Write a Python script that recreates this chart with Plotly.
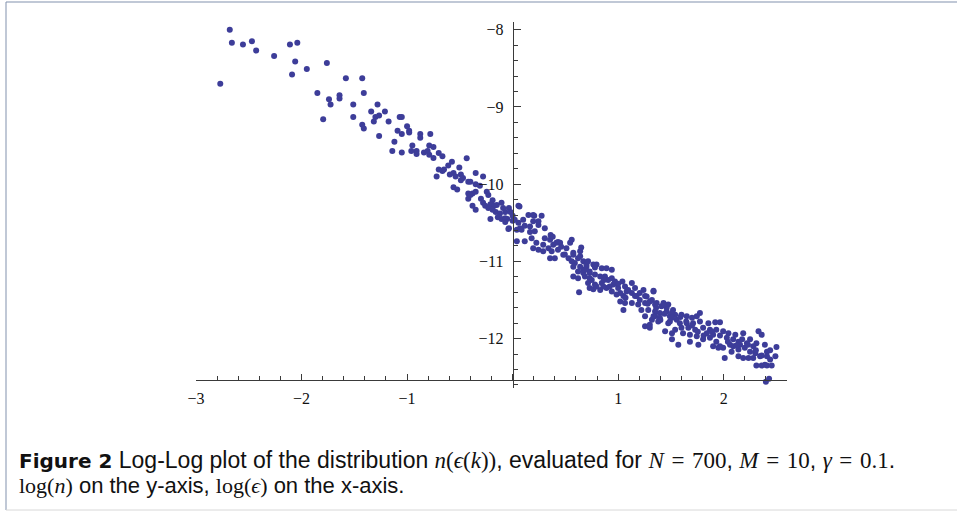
import plotly.graph_objects as go

# ---- data: log(epsilon) vs log(n) ----
log_eps = [
 -2.68,-2.66,-2.555,-2.47,-2.43,-2.77,-2.26,-2.11,-2.04,-2.06,-2.09,-1.95,-1.76,-1.85,-1.74,-1.725,-1.795,
 -1.58,-1.425,-1.64,-1.64,-1.41,-1.51,-1.28,-1.51,-1.34,-1.30,-1.265,-1.21,-1.315,-1.175,-1.425,-1.41,-1.265,
 -1.07,-1.05,-1.00,-0.98,-0.98,-1.09,-1.05,-1.12,-1.14,-1.05,-0.95,-0.91,-0.91,-0.875,-0.875,-0.84,-0.805,-0.79,-0.78,
 -0.96,-0.75,-0.75,-0.79,-0.70,-0.665,-0.575,-0.61,-0.70,-0.665,-0.72,-0.65,-0.595,-0.56,-0.505,-0.54,-0.49,-0.47,
 -0.435,-0.56,-0.525,-0.49,-0.42,-0.40,-0.35,-0.28,-0.35,-0.31,-0.38,-0.42,-0.42,-0.35,-0.30,-0.245,-0.23,-0.19,
 -0.28,-0.38,-0.35,-0.26,-0.23,-0.21,-0.175,-0.16,-0.105,-0.09,-0.12,-0.07,-0.035,-0.02,-0.21,-0.14,-0.105,-0.05,
 0.00,0.00,0.055,-0.035,
 -0.15,-0.07,-0.04,0.065,0.02,0.055,0.04,0.085,0.10,0.15,0.205,0.275,0.195,0.115,0.165,0.245,0.21,0.04,0.115,
 0.18,0.225,0.195,0.245,0.29,0.29,0.36,0.355,0.385,0.34,0.37,0.355,0.40,0.43,0.45,0.48,0.51,0.545,0.56,0.53,
 0.575,0.59,0.62,0.64,0.67,0.70,0.73,0.67,0.62,0.575,0.62,0.73,0.78,0.795,0.78,0.75,
 0.195,0.245,0.305,0.46,0.575,0.64,0.415,
 0.65,0.575,0.64,0.70,0.765,0.845,0.89,0.94,0.685,0.73,0.83,0.875,0.715,0.845,0.905,0.955,1.04,0.63,0.765,
 0.83,0.89,0.94,1.00,1.065,1.13,0.985,1.05,1.02,1.065,1.13,1.175,1.24,1.255,1.335,1.13,1.05,1.19,1.255,1.32,
 1.365,1.43,1.475,1.22,1.285,1.35,1.395,1.46,1.52,1.255,1.32,1.38,1.255,1.30,1.445,1.51,1.49,1.555,
 0.67,0.73,0.795,0.86,0.92,0.97,1.02,1.08,1.16,1.205,1.27,1.30,1.35,1.41,1.46,1.49,1.54,1.35,1.395,1.30,
 1.335,1.51,1.60,1.65,1.70,1.775,1.745,1.585,1.65,1.71,1.775,1.54,1.60,1.665,1.73,1.805,1.855,1.92,1.965,
 1.87,1.93,1.995,2.045,1.51,1.57,1.68,1.76,1.805,1.87,1.93,1.95,1.995,2.01,2.06,2.09,2.11,2.185,2.14,2.075,
 2.14,2.20,2.25,2.31,2.33,2.36,2.25,2.30,2.14,2.185,2.235,2.28,2.345,2.39,2.41,2.44,2.49,2.50,2.31,2.36,
 2.41,2.455,2.43,2.40,
 1.475,1.615,1.68,1.84,1.90,2.03,2.09,2.155,2.22,2.28,1.965,1.90,1.745,1.335,1.43,2.41,2.39,
 0.305,0.38,0.43,0.495,0.56,0.715,0.78,0.685,0.865,0.94,1.00,1.095,1.16,1.07,1.205,
 1.28,1.36,1.44,1.51,1.59,1.645,1.40,1.70,1.755,1.81,1.89,1.965,2.04,2.12,2.175,
 2.23,2.305,2.36,2.44,-0.40,-0.19,-0.07,0.07,0.165,
]
log_n = [
 -8.00,-8.17,-8.19,-8.15,-8.27,-8.70,-8.34,-8.19,-8.17,-8.41,-8.58,-8.51,-8.43,-8.82,-8.90,-8.97,-9.16,
 -8.63,-8.63,-8.85,-8.89,-8.82,-8.97,-8.97,-9.13,-9.06,-9.13,-9.11,-9.06,-9.19,-9.19,-9.23,-9.28,-9.375,
 -9.13,-9.13,-9.25,-9.31,-9.33,-9.31,-9.35,-9.45,-9.57,-9.59,-9.50,-9.57,-9.61,-9.35,-9.40,-9.59,-9.57,-9.50,-9.35,
 -9.57,-9.52,-9.66,-9.62,-9.595,-9.64,-9.71,-9.76,-9.81,-9.83,-9.90,-9.81,-9.875,-9.855,-9.785,-9.90,-9.875,-9.92,
 -9.665,-10.04,-10.07,-9.95,-9.97,-9.97,-9.855,-9.90,-10.00,-10.02,-10.12,-10.12,-10.19,-10.10,-10.19,-10.10,-10.14,-10.21,
 -10.24,-10.28,-10.33,-10.28,-10.31,-10.26,-10.28,-10.36,-10.24,-10.31,-10.38,-10.36,-10.31,-10.36,-10.45,-10.43,-10.45,-10.45,
 -10.41,-10.475,-10.28,-10.57,
 -10.27,-10.44,-10.58,-10.29,-10.46,-10.50,-10.59,-10.59,-10.46,-10.40,-10.41,-10.41,-10.48,-10.54,-10.55,-10.53,-10.61,-10.74,-10.74,
 -10.70,-10.76,-10.83,-10.85,-10.785,-10.87,-10.66,-10.72,-10.785,-10.83,-10.87,-10.96,-10.96,-10.85,-10.76,-10.915,-10.83,-10.76,-10.72,-10.96,
 -10.915,-11.02,-10.96,-10.87,-11.00,-11.07,-11.13,-11.11,-11.13,-11.195,-11.22,-11.345,-11.17,-11.04,-11.30,-11.24,
 -10.40,-10.48,-10.57,-10.81,-10.89,-10.935,-10.76,
 -10.82,-11.07,-11.07,-11.04,-11.04,-11.09,-11.09,-11.11,-11.195,-11.15,-11.195,-11.195,-11.28,-11.28,-11.24,-11.30,-11.26,-11.40,-11.36,
 -11.37,-11.345,-11.39,-11.345,-11.325,-11.28,-11.43,-11.45,-11.52,-11.54,-11.41,-11.45,-11.37,-11.45,-11.39,-11.54,-11.63,-11.56,-11.54,-11.50,
 -11.54,-11.54,-11.56,-11.63,-11.63,-11.65,-11.67,-11.65,-11.63,-11.71,-11.755,-11.78,-11.84,-11.86,-11.905,-11.93,-11.78,-11.755,
 -11.15,-11.22,-11.325,-11.325,-11.325,-11.26,-11.41,-11.39,-11.345,-11.41,-11.455,-11.52,-11.56,-11.58,-11.60,-11.71,-11.69,-11.71,-11.73,-11.82,
 -11.38,-11.67,-11.69,-11.71,-11.73,-11.67,-11.71,-11.80,-11.80,-11.80,-11.78,-11.885,-11.86,-11.86,-11.885,-11.86,-11.80,-11.79,-11.79,
 -11.885,-11.885,-11.905,-11.93,-12.01,-12.08,-12.04,-12.08,-12.01,-11.99,-12.04,-12.12,-12.12,-12.25,-12.08,-12.01,-11.95,-11.93,-12.04,-12.17,
 -12.14,-12.12,-12.01,-12.06,-11.905,-11.95,-12.17,-12.19,-12.23,-12.25,-12.25,-12.25,-12.23,-12.08,-12.17,-12.27,-12.23,-12.11,-12.35,-12.35,
 -12.35,-12.35,-12.52,-12.56,
 -11.80,-11.93,-11.95,-11.93,-11.95,-11.99,-12.10,-12.08,-12.06,-12.10,-12.10,-12.10,-11.97,-11.71,-11.56,-12.23,-12.34,
 -10.70,-10.68,-10.75,-10.91,-11.00,-11.00,-11.08,-11.11,-11.24,-11.22,-11.29,-11.37,-11.45,-11.47,-11.50,
 -11.55,-11.60,-11.68,-11.73,-11.72,-11.78,-11.76,-11.83,-11.91,-11.96,-11.91,-11.96,-12.04,-12.09,-12.01,
 -12.08,-12.15,-12.22,-12.15,-10.14,-10.33,-10.49,-10.57,-10.62,
]

x_tick_vals = [-3, -2, -1, 0, 1, 2]
x_tick_text = ["\u22123", "\u22122", "\u22121", "", "1", "2"]
y_tick_vals = [-8, -9, -10, -11, -12]
y_tick_text = ["\u22128", "\u22129", "\u221210", "\u221211", "\u221212"]

X_RANGE = [-3.0, 2.6]
Y_RANGE = [-12.64, -7.9]
X_AXIS_AT = -12.535   # where the horizontal axis crosses
Y_AXIS_AT = 0.0       # where the vertical axis crosses

W, H = 957, 512
ML, MR, MT, MB = 196, 170, 22, 124
PW, PH = W - ML - MR, H - MT - MB

def px_x(px):
    return (px - ML) / PW

def px_y(py):
    return (H - MB - py) / PH

AXIS_COL = "#3a3a3a"
DOT_COL = "#3d3d99"

fig = go.Figure(go.Scatter(
    x=log_eps, y=log_n, mode="markers",
    marker=dict(color=DOT_COL, size=6, line=dict(width=0)),
    cliponaxis=False, hoverinfo="skip",
))

tickfont = dict(family="Liberation Serif, Times New Roman, serif", size=16, color="#111")

fig.update_layout(
    width=W, height=H, margin=dict(l=ML, r=MR, t=MT, b=MB),
    paper_bgcolor="white", plot_bgcolor="white", showlegend=False,
    xaxis=dict(
        range=X_RANGE, showgrid=False, zeroline=False,
        showline=True, linecolor=AXIS_COL, linewidth=1,
        anchor="free",
        position=(X_AXIS_AT - Y_RANGE[0]) / (Y_RANGE[1] - Y_RANGE[0]),
        tickmode="array", tickvals=x_tick_vals, ticktext=x_tick_text,
        ticks="inside", ticklen=6, tickcolor=AXIS_COL, tickwidth=1,
        minor=dict(tickmode="linear", tick0=0, dtick=0.2, ticks="inside",
                   ticklen=3.5, tickcolor=AXIS_COL, tickwidth=1),
        tickfont=tickfont, ticklabelstandoff=4,
    ),
    yaxis=dict(
        range=Y_RANGE, showgrid=False, zeroline=False,
        showline=True, linecolor=AXIS_COL, linewidth=1,
        anchor="free",
        position=(Y_AXIS_AT - X_RANGE[0]) / (X_RANGE[1] - X_RANGE[0]),
        tickmode="array", tickvals=y_tick_vals, ticktext=y_tick_text,
        ticks="inside", ticklen=7, tickcolor=AXIS_COL, tickwidth=1,
        minor=dict(tickmode="linear", tick0=0, dtick=0.2, ticks="inside",
                   ticklen=4, tickcolor=AXIS_COL, tickwidth=1),
        tickfont=tickfont, ticklabelstandoff=6,
    ),
)

# figure frame (left / top in blue-grey, bottom light grey)
frame_col = "#8191ad"
fig.add_shape(type="line", xref="paper", yref="paper",
              x0=px_x(6), x1=px_x(6), y0=px_y(2), y1=px_y(510),
              line=dict(color=frame_col, width=1))
fig.add_shape(type="line", xref="paper", yref="paper",
              x0=px_x(6), x1=px_x(957), y0=px_y(2), y1=px_y(2),
              line=dict(color=frame_col, width=1))
fig.add_shape(type="line", xref="paper", yref="paper",
              x0=px_x(6), x1=px_x(957), y0=px_y(510), y1=px_y(510),
              line=dict(color="#d8d8d8", width=1))

def m(s, size):
    style = f"font-family:'Liberation Serif', 'Times New Roman', serif;font-size:{size}px"
    return f"<span style=\"{style}\">{s}</span>"

EQ = "\u2004=\u2004"
bold = "<span style=\"font-family:'DejaVu Sans';font-size:20px\"><b>Figure 2</b></span>"
line1 = (bold + " Log-Log plot of the distribution "
         + m("<i>n</i>(<i>\u03f5</i>(<i>k</i>))", 23)
         + ", evaluated for " + m("<i>N</i>" + EQ + "700", 23)
         + ", " + m("<i>M</i>" + EQ + "10", 23) + ", "
         + m("<i>\u03b3</i>" + EQ + "0.1", 23) + ".")
line2 = (m("log(<i>n</i>)", 22) + " on the y-axis, " + m("log(<i>\u03f5</i>)", 22)
         + " on the x-axis.")

fig.add_annotation(x=px_x(17), y=px_y(460), xref="paper", yref="paper",
                   text=line1, showarrow=False, xanchor="left", yanchor="middle",
                   font=dict(family="Liberation Sans, Arial, sans-serif", size=23, color="#111"))
fig.add_annotation(x=px_x(17), y=px_y(485), xref="paper", yref="paper",
                   text=line2, showarrow=False, xanchor="left", yanchor="middle",
                   font=dict(family="Liberation Sans, Arial, sans-serif", size=22, color="#111"))

fig.write_html("out.html", config={"displayModeBar": False},
               post_script="document.body.style.margin='0px';")
